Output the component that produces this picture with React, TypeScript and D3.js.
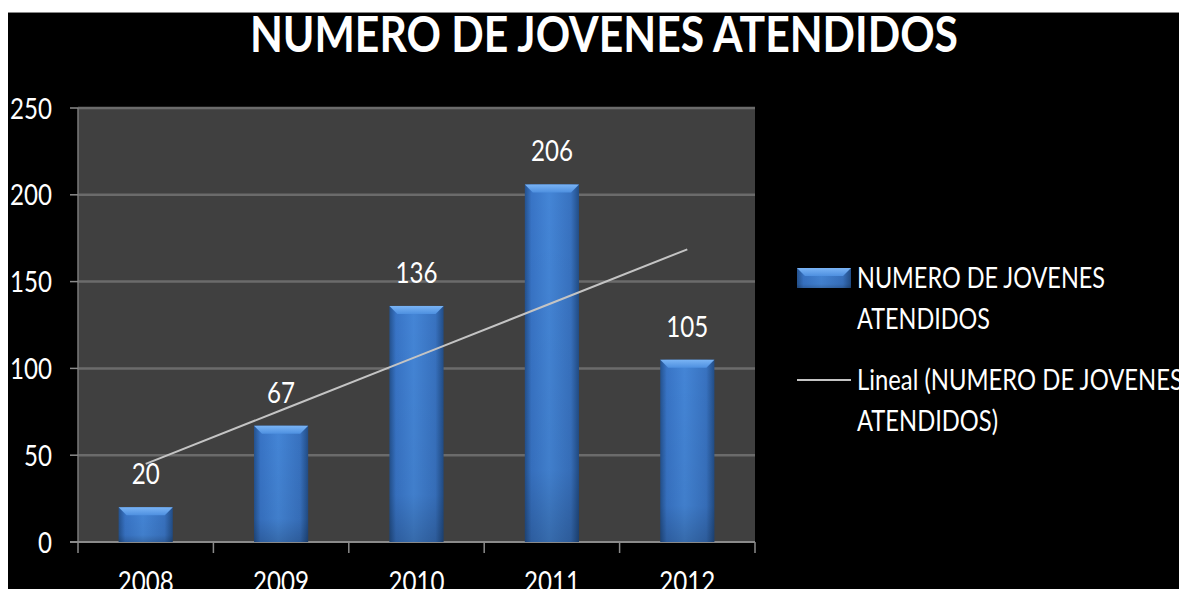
import React from 'react';
import * as d3 from 'd3';

const years = ['2008', '2009', '2010', '2011', '2012'];
const values = [20, 67, 136, 206, 105];
const yTicks = [0, 50, 100, 150, 200, 250];
const titleText = 'NUMERO DE JOVENES ATENDIDOS';
const legendBar = ['NUMERO DE JOVENES', 'ATENDIDOS'];
const legendLine = ['Lineal (NUMERO DE JOVENES', 'ATENDIDOS)'];

const W = 1179;
const H = 589;
const PLOT = { left: 78, right: 755, top: 108, bottom: 542 };
const FONT = 'Lato, "Open Sans", sans-serif';
const DIGIT_W = 14; // narrow, Calibri-like digits

// least squares trend, like Excel's "Lineal" trendline
function trend(v: number[]) {
  const n = v.length;
  const xs = d3.range(1, n + 1);
  const mx = d3.mean(xs)!;
  const my = d3.mean(v)!;
  const slope = d3.sum(xs, (x, i) => (x - mx) * (v[i] - my)) / d3.sum(xs, (x) => (x - mx) ** 2);
  return xs.map((x) => my + slope * (x - mx));
}

function Bar({ x, y, w, h }: { x: number; y: number; w: number; h: number }) {
  const bev = Math.min(8, h / 2);
  return (
    <g>
      <rect x={x} y={y} width={w} height={h} fill="url(#barGrad)" />
      <rect x={x} y={y} width={w} height={h} fill="url(#barShade)" />
      <path
        d={`M${x},${y} L${x + w},${y} L${x + w - bev},${y + bev} L${x + bev},${y + bev} Z`}
        fill="url(#bevelGrad)"
      />
    </g>
  );
}

export default function App() {
  const x = d3.scaleBand<string>().domain(years).range([PLOT.left, PLOT.right]).paddingInner(0.6).paddingOuter(0.3);
  const y = d3.scaleLinear().domain([0, 250]).range([PLOT.bottom, PLOT.top]);
  const step = x.step();
  const bw = x.bandwidth();
  const cx = (yr: string) => x(yr)! + bw / 2;

  const tr = trend(values);
  const line = d3
    .line<number>()
    .x((_, i) => cx(years[i]))
    .y((d) => y(d));

  const boundaries = d3.range(0, years.length + 1).map((i) => PLOT.left + i * step);

  return (
    <svg
      width={W}
      height={H}
      style={{ position: 'absolute', left: 0, top: 0, display: 'block' }}
      fontFamily={FONT}
    >
      <defs>
        <linearGradient id="barGrad" x1="0" x2="1" y1="0" y2="0">
          <stop offset="0" stopColor="#24528f" />
          <stop offset="0.12" stopColor="#3874c6" />
          <stop offset="0.45" stopColor="#4485d6" />
          <stop offset="0.85" stopColor="#3872c0" />
          <stop offset="1" stopColor="#224d86" />
        </linearGradient>
        <linearGradient id="barShade" x1="0" x2="0" y1="0" y2="1">
          <stop offset="0" stopColor="#000" stopOpacity="0" />
          <stop offset="0.8" stopColor="#000" stopOpacity="0.05" />
          <stop offset="1" stopColor="#000" stopOpacity="0.2" />
        </linearGradient>
        <linearGradient id="bevelGrad" x1="0" x2="0" y1="0" y2="1">
          <stop offset="0" stopColor="#7ab4f5" />
          <stop offset="1" stopColor="#4e90e0" />
        </linearGradient>
      </defs>

      {/* page background: white edge then black slide */}
      <rect width={W} height={H} fill="#fff" />
      <rect x={8} y={12} width={W - 8} height={H - 12} fill="#000" />
      <line x1={8} x2={W} y1={12.5} y2={12.5} stroke="#888" strokeWidth={1} />

      {/* title */}
      <text
        x={250}
        y={52}
        fontSize={50}
        fontWeight="bold"
        fill="#fff"
        textLength={708}
        lengthAdjust="spacingAndGlyphs"
      >
        {titleText}
      </text>

      {/* plot area */}
      <rect
        x={PLOT.left}
        y={PLOT.top}
        width={PLOT.right - PLOT.left}
        height={PLOT.bottom - PLOT.top}
        fill="#404040"
      />
      {yTicks.filter((t) => t > 0).map((t) => (
        <line key={t} x1={PLOT.left} x2={PLOT.right} y1={y(t)} y2={y(t)} stroke="#6b6b6b" strokeWidth={2.5} />
      ))}

      {/* axes */}
      <line x1={PLOT.left} x2={PLOT.left} y1={PLOT.top} y2={PLOT.bottom} stroke="#7a7a7a" strokeWidth={1.5} />
      <line x1={PLOT.left - 8} x2={PLOT.right} y1={PLOT.bottom} y2={PLOT.bottom} stroke="#8a8a8a" strokeWidth={2} />
      {yTicks.map((t) => (
        <line key={t} x1={PLOT.left - 8} x2={PLOT.left} y1={y(t)} y2={y(t)} stroke="#8a8a8a" strokeWidth={1.5} />
      ))}
      {boundaries.map((b, i) => (
        <line key={i} x1={b} x2={b} y1={PLOT.bottom} y2={PLOT.bottom + 11} stroke="#8a8a8a" strokeWidth={1.5} />
      ))}

      {yTicks.map((t) => (
        <text
          key={t}
          x={52}
          y={y(t) + 10.5}
          textAnchor="end"
          fontSize={29}
          fill="#fff"
          textLength={String(t).length * DIGIT_W}
          lengthAdjust="spacingAndGlyphs"
        >
          {t}
        </text>
      ))}
      {years.map((yr) => (
        <text
          key={yr}
          x={cx(yr)}
          y={592}
          textAnchor="middle"
          fontSize={29}
          fill="#fff"
          textLength={yr.length * DIGIT_W}
          lengthAdjust="spacingAndGlyphs"
        >
          {yr}
        </text>
      ))}

      {/* bars */}
      {years.map((yr, i) => (
        <Bar key={yr} x={x(yr)!} y={y(values[i])} w={bw} h={PLOT.bottom - y(values[i])} />
      ))}

      {/* trend line */}
      <path d={line(tr) || ''} fill="none" stroke="#c4c4c4" strokeWidth={2} />

      {/* data labels */}
      {years.map((yr, i) => (
        <text
          key={yr}
          x={cx(yr)}
          y={y(values[i]) - 23}
          textAnchor="middle"
          fontSize={28}
          fill="#fff"
          textLength={String(values[i]).length * DIGIT_W}
          lengthAdjust="spacingAndGlyphs"
        >
          {values[i]}
        </text>
      ))}

      {/* legend */}
      <Bar x={797} y={268} w={54} h={20} />
      <text x={857} y={288} fontSize={28} fill="#fff" textLength={248} lengthAdjust="spacingAndGlyphs">
        {legendBar[0]}
      </text>
      <text x={857} y={329} fontSize={28} fill="#fff" textLength={133} lengthAdjust="spacingAndGlyphs">
        {legendBar[1]}
      </text>
      <line x1={797} x2={851} y1={380} y2={380} stroke="#c4c4c4" strokeWidth={2} />
      <text x={857} y={390} fontSize={28} fill="#fff" textLength={326} lengthAdjust="spacingAndGlyphs">
        {legendLine[0]}
      </text>
      <text x={857} y={431} fontSize={28} fill="#fff" textLength={141} lengthAdjust="spacingAndGlyphs">
        {legendLine[1]}
      </text>
    </svg>
  );
}
